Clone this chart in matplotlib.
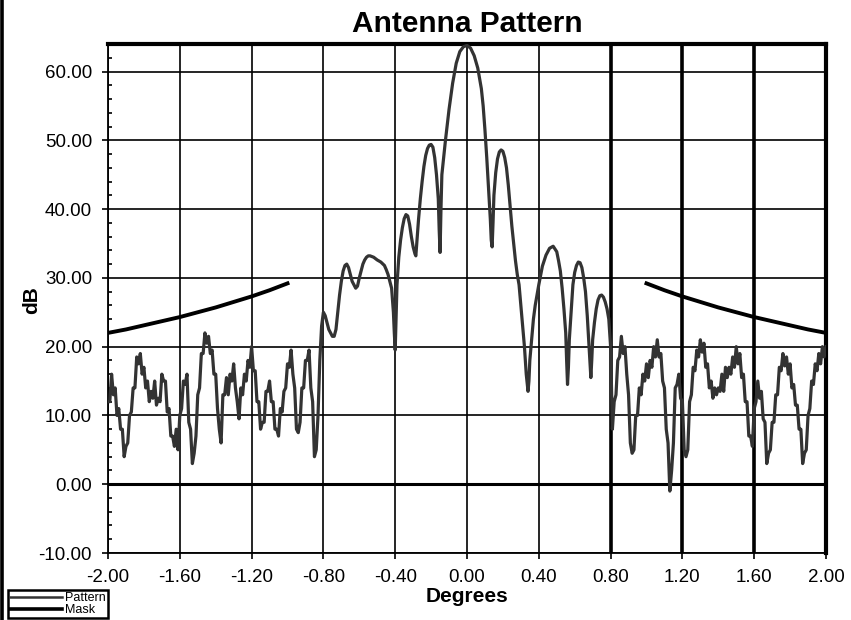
import numpy as np
import matplotlib
matplotlib.use("Agg")
import matplotlib.pyplot as plt
from matplotlib.lines import Line2D

plt.rcParams['font.family'] = ['Liberation Sans', 'DejaVu Sans']
plt.rcParams['axes.unicode_minus'] = False

# far sidelobes, left side: -2.00 .. -0.83 step 0.01
left_deg = np.linspace(-2.00, -0.83, 118)
left_db = [
    12, 12, 16, 13, 14, 10, 11, 8, 8, 4,
    5.5, 6, 10, 10.5, 14, 14, 18.5, 17.5, 19, 16,
    17, 14, 15, 12, 13.5, 12.5, 15, 11.5, 12.5, 12,
    16, 15, 15, 10.5, 11, 7, 7, 5.5, 8, 5,
    10, 11, 15, 14.5, 16, 9, 8, 3, 4.5, 7,
    13, 14, 19, 19, 22, 20.5, 21.5, 19, 19.5, 16,
    16, 11, 8, 6, 13, 13, 15.5, 13, 16, 15,
    17.5, 14, 12, 9.5, 14, 13, 16, 15, 18, 17,
    20, 16.5, 16.5, 12, 12, 8, 9, 9, 13.5, 13.5,
    15, 12, 12, 8, 8, 7, 11, 10.5, 13.5, 14,
    17.5, 17, 19.5, 16, 14, 8, 7.5, 9, 14, 14,
    18, 18, 19.5, 14, 12, 4, 5, 10,
]

# main lobe and near sidelobes
main_deg = [
    -0.82, -0.81, -0.80, -0.79, -0.78, -0.77, -0.76, -0.75, -0.74, -0.73,
    -0.72, -0.71, -0.70, -0.69, -0.68, -0.67, -0.66, -0.65, -0.64, -0.63,
    -0.62, -0.61, -0.60, -0.59, -0.58, -0.57, -0.56, -0.55, -0.54, -0.53,
    -0.52, -0.51, -0.50, -0.48, -0.46, -0.45, -0.44, -0.43, -0.42, -0.41,
    -0.405, -0.40, -0.395, -0.39, -0.38, -0.37, -0.36, -0.35, -0.34, -0.33,
    -0.32, -0.31, -0.30, -0.29, -0.285, -0.28, -0.27, -0.26, -0.25, -0.24,
    -0.23, -0.22, -0.21, -0.20, -0.19, -0.18, -0.17, -0.16, -0.155, -0.15,
    -0.145, -0.14, -0.13, -0.12, -0.10, -0.08, -0.06, -0.04, -0.02, 0.00,
    0.02, 0.04, 0.06, 0.08, 0.09, 0.10, 0.11, 0.12, 0.13, 0.135,
    0.14, 0.145, 0.15, 0.16, 0.17, 0.18, 0.19, 0.20, 0.21, 0.22,
    0.23, 0.24, 0.25, 0.26, 0.27, 0.28, 0.29, 0.30, 0.31, 0.32,
    0.33, 0.34, 0.345, 0.35, 0.36, 0.37, 0.38, 0.39, 0.40, 0.42,
    0.44, 0.46, 0.48, 0.50, 0.51, 0.52, 0.53, 0.54, 0.55, 0.555,
    0.56, 0.565, 0.57, 0.58, 0.59, 0.60, 0.61, 0.62, 0.63, 0.64,
    0.65, 0.66, 0.67, 0.68, 0.69, 0.695, 0.70, 0.71, 0.72, 0.73,
    0.74, 0.75, 0.76, 0.77, 0.78, 0.79, 0.80, 0.81,
]
main_db = [
    18, 23, 25, 24.5, 23.5, 22.5, 22, 21.5, 21.5, 22.5,
    25, 27.5, 29.5, 31, 31.8, 32, 31.5, 30.5, 29.5, 29,
    28.5, 28.8, 30, 31, 32, 32.6, 33, 33.2, 33.2, 33.1,
    33, 32.8, 32.6, 32.3, 31.8, 31.2, 30.5, 29.5, 28.5, 25,
    22, 19.5, 24, 29, 33, 35.5, 37.3, 38.6, 39.2, 39,
    37.8, 36, 34.5, 33.5, 33.2, 35, 38.5, 41.5, 44, 46.2,
    47.8, 48.8, 49.3, 49.4, 49, 47.5, 45, 41.5, 37, 33.7,
    40, 45, 47.5, 50, 54.5, 58.3, 61.2, 62.9, 63.6, 63.8,
    63.4, 62.3, 60.5, 57.5, 55, 51.5, 47.5, 43, 38.5, 35.5,
    34.5, 38, 42, 45.3, 47.3, 48.3, 48.6, 48.4, 47.5, 46,
    43.5, 40.5, 37.5, 35, 32.5, 30.5, 29, 26, 23, 20,
    16, 13.5, 15, 18, 21, 24, 26, 27.5, 29, 31.7,
    33.3, 34.3, 34.6, 33.8, 32.5, 31, 28.5, 25.5, 22, 18,
    14.5, 17, 21, 25, 29, 30.8, 31.8, 32.3, 32.2, 31.5,
    30, 28, 24.5, 20, 15.5, 18, 21, 23.5, 25.5, 26.8,
    27.4, 27.5, 27.2, 26.5, 25.5, 24, 20, 8,
]

# far sidelobes, right side: 0.82 .. 2.00 step 0.01
right_deg = np.linspace(0.82, 2.00, 119)
right_db = [
    12, 13, 18, 18.5, 21.5, 19, 20, 16, 13, 6,
    4.5, 5, 10, 10, 14, 13, 16, 15, 17.5, 15.5,
    18, 17, 20, 18.5, 21, 18.5, 19, 15, 14, 8,
    6, -1, 2, 6, 14, 14.5, 16, 12.5, 12, 5,
    4, 5, 12, 13, 17, 16.5, 19.5, 18.5, 21, 19.2,
    20.5, 17, 17.5, 14, 15, 12.5, 14, 13, 14, 13.5,
    16, 13.5, 17, 15.5, 17, 16, 18.5, 17, 20, 17.5,
    19, 15.5, 16, 12, 12, 7, 7, 5.5, 11, 12,
    15, 12.5, 13.5, 9.5, 9, 3, 4.5, 5, 9, 9,
    13, 13, 17, 16.5, 19, 17.2, 18.5, 16, 17.5, 14,
    14.5, 11.5, 11.5, 8, 8, 3, 4.5, 5, 10, 11,
    15, 14.5, 17.5, 16.5, 19, 17.5, 20, 18.5, 20,
]

mask_left_deg = [-2.0, -1.9, -1.8, -1.7, -1.6, -1.5, -1.4, -1.3, -1.2, -1.1, -1.0]
mask_left_db = [22.0, 22.5, 23.1, 23.7, 24.3, 25.0, 25.7, 26.5, 27.3, 28.2, 29.2]
mask_right_deg = [1.0, 1.1, 1.2, 1.3, 1.4, 1.5, 1.6, 1.7, 1.8, 1.9, 2.0]
mask_right_db = [29.2, 28.2, 27.3, 26.5, 25.7, 25.0, 24.3, 23.7, 23.1, 22.5, 22.0]

x_ticks = [-2.0, -1.6, -1.2, -0.8, -0.4, 0.0, 0.4, 0.8, 1.2, 1.6, 2.0]
y_ticks = [-10, 0, 10, 20, 30, 40, 50, 60]

pattern_deg = np.concatenate([left_deg, main_deg, right_deg])
pattern_db = np.concatenate([left_db, main_db, right_db])

fig = plt.figure(figsize=(8.51, 6.2), dpi=100)
ax = fig.add_axes([108 / 851, 1 - 553 / 620, 718 / 851, 509 / 620])

ax.plot(pattern_deg, pattern_db, color='#333333', lw=2.3, label='Pattern', zorder=3)
ax.plot(mask_left_deg, mask_left_db, color='black', lw=2.8, label='Mask', zorder=4)
ax.plot(mask_right_deg, mask_right_db, color='black', lw=2.8, zorder=4)

ax.set_xlim(-2, 2)
ax.set_ylim(-10, 64)
ax.set_xticks(x_ticks)
ax.set_xticklabels([f"{t:.2f}" for t in x_ticks])
ax.set_yticks(y_ticks)
ax.set_yticklabels([f"{t:.2f}" for t in y_ticks])
ax.set_yticks(np.arange(-10, 64, 2), minor=True)

ax.grid(True, which='major', color='black', lw=1.2)
for line, t in zip(ax.get_xgridlines(), x_ticks):
    if t >= 0.79:
        line.set_linewidth(2.6)
for line, t in zip(ax.get_ygridlines(), y_ticks):
    if t == 0:
        line.set_linewidth(2.2)
ax.set_axisbelow(True)

for side in ['top', 'right']:
    ax.spines[side].set_linewidth(3)
for side in ['left', 'bottom']:
    ax.spines[side].set_linewidth(1.3)

ax.tick_params(axis='both', which='major', direction='out', length=4.5, width=1.2,
               labelsize=13.5, pad=7)
ax.tick_params(axis='y', which='minor', direction='in', length=3, width=1.2)

ax.set_title('Antenna Pattern', fontsize=21.5, fontweight='bold', pad=9)
ax.set_xlabel('Degrees', fontsize=15, fontweight='bold')
ax.xaxis.set_label_coords(0.5, -0.066)
ax.set_ylabel('dB', fontsize=15, fontweight='bold')
ax.yaxis.set_label_coords(-0.093, 0.497)

handles = [Line2D([], [], color='#333333', lw=1.8), Line2D([], [], color='black', lw=2.6)]
leg = fig.legend(handles, ['Pattern', 'Mask'], loc='upper left',
                 bbox_to_anchor=(8 / 851, 1 - 590 / 620), borderaxespad=0,
                 fontsize=9, frameon=True, fancybox=False, edgecolor='black',
                 borderpad=0.15, labelspacing=0.0, handlelength=4.2, handletextpad=0.2)
leg.get_frame().set_linewidth(1.8)
leg.get_frame().set_alpha(1)

# dark strip on the left edge of the original screenshot
fig.add_artist(Line2D([0.0018, 0.0018], [0, 1], color='black', lw=2.6, transform=fig.transFigure))

fig.savefig('out.png', dpi=100)
